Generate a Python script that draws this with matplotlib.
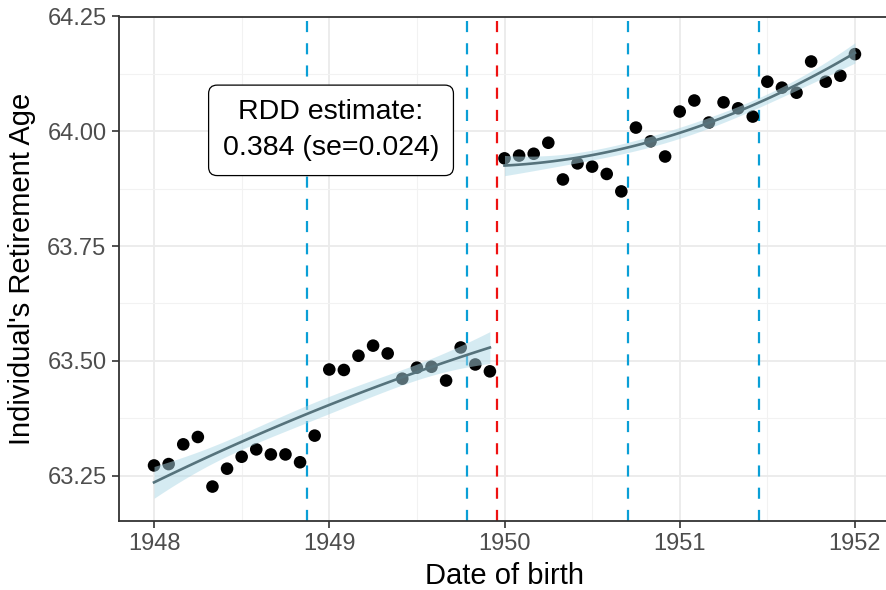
import matplotlib.pyplot as plt
import matplotlib
import numpy as np

matplotlib.rcParams['font.family'] = ['Liberation Sans', 'DejaVu Sans']

# monthly birth cohorts, mean retirement age
months_left = 1948 + np.arange(24) / 12.0
age_left = [63.272, 63.275, 63.318, 63.334, 63.226, 63.265, 63.291, 63.307,
            63.296, 63.296, 63.279, 63.337, 63.481, 63.480, 63.511, 63.533,
            63.516, 63.461, 63.485, 63.487, 63.457, 63.529, 63.492, 63.477]

months_right = 1950 + np.arange(25) / 12.0
age_right = [63.941, 63.947, 63.951, 63.975, 63.895, 63.930, 63.923, 63.907,
             63.869, 64.008, 63.978, 63.945, 64.043, 64.067, 64.019, 64.063,
             64.050, 64.032, 64.108, 64.095, 64.084, 64.152, 64.108, 64.121,
             64.168]

cutoff = 1949.957
reform_dates = [1948.873, 1949.786, 1950.705, 1951.452]
rdd_label = 'RDD estimate:\n0.384 (se=0.024)'


def quad_fit(x, y, band_mult=1.05):
	x = np.asarray(x)
	y = np.asarray(y)
	X = np.column_stack([np.ones_like(x), x - x.mean(), (x - x.mean()) ** 2])
	beta, res, _, _ = np.linalg.lstsq(X, y, rcond=None)
	resid = y - X @ beta
	sigma2 = (resid ** 2).sum() / (len(y) - 3)
	cov = np.linalg.inv(X.T @ X) * sigma2
	xs = np.linspace(x.min(), x.max(), 80)
	Xs = np.column_stack([np.ones_like(xs), xs - x.mean(), (xs - x.mean()) ** 2])
	fit = Xs @ beta
	se = np.sqrt(np.einsum('ij,jk,ik->i', Xs, cov, Xs))
	return xs, fit, fit - band_mult * se, fit + band_mult * se


fig = plt.figure(figsize=(8.86, 5.9), dpi=100)
ax = fig.add_axes([119/886, 69/590, (890-119)/886, (521-16.5)/590])

# grid like ggplot theme
ax.set_xticks([1948, 1949, 1950, 1951, 1952])
ax.set_yticks([63.25, 63.50, 63.75, 64.00, 64.25])
ax.set_yticklabels(['63.25', '63.50', '63.75', '64.00', '64.25'])
ax.set_xticks([1948.5, 1949.5, 1950.5, 1951.5], minor=True)
ax.set_yticks([63.375, 63.625, 63.875, 64.125], minor=True)
ax.set_xlim(1947.8, 1952.2)
ax.set_ylim(63.151, 64.25)
ax.grid(True, which='major', color='#EBEBEB', linewidth=1.3, zorder=0)
ax.grid(True, which='minor', color='#F2F2F2', linewidth=0.8, zorder=0)
ax.set_axisbelow(True)
ax.tick_params(which='minor', length=0)
ax.tick_params(which='major', length=5, width=1.2, color='#333333',
			   labelcolor='#4D4D4D', labelsize=17, pad=4)

for side in ['left', 'bottom', 'top']:
	ax.spines[side].set_color('#333333')
	ax.spines[side].set_linewidth(1.3)
ax.spines['right'].set_visible(False)

for xv in reform_dates:
	ax.axvline(xv, color='#0A9FD6', linewidth=1.6, dashes=(5, 5), zorder=1)
ax.axvline(cutoff, color='#EE1111', linewidth=1.6, dashes=(5, 5), zorder=1)

ax.scatter(months_left, age_left, s=82, c='k', edgecolors='none', zorder=2)
ax.scatter(months_right, age_right, s=82, c='k', edgecolors='none', zorder=2)

for xm, ym in [(months_left, age_left), (months_right, age_right)]:
	xs, fit, lo, hi = quad_fit(xm, ym)
	ax.fill_between(xs, lo, hi, color='#ADD8E6', alpha=0.5, linewidth=0, zorder=3)
	ax.plot(xs, fit, color='#56737C', linewidth=1.9, zorder=4)

ax.text(1949.01, 64.002, rdd_label, ha='center', va='center', fontsize=20.5,
		linespacing=1.5,
		bbox=dict(boxstyle='round,pad=0.5,rounding_size=0.3', facecolor='white',
				  edgecolor='black', linewidth=0.9), zorder=5)

ax.set_xlabel('Date of birth', fontsize=21, labelpad=5)
ax.set_ylabel("Individual's Retirement Age", fontsize=21, labelpad=8)

plt.savefig('out.png', dpi=100)
